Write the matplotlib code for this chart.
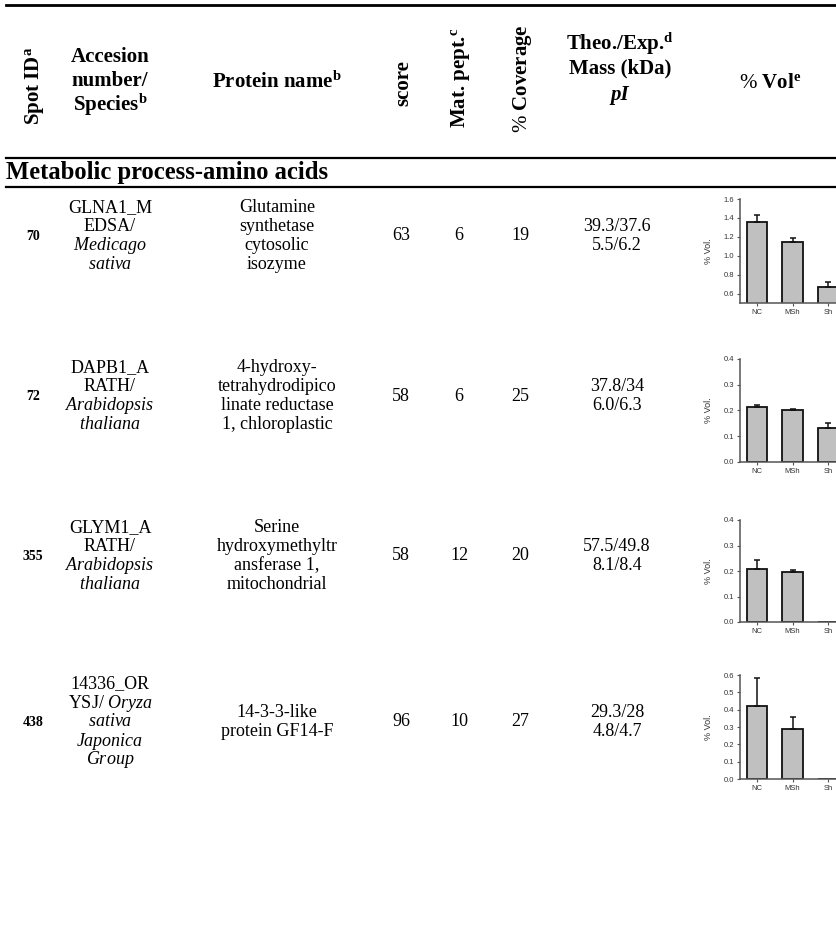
import matplotlib
matplotlib.use("Agg")
import matplotlib.pyplot as plt
from matplotlib.lines import Line2D

plt.rcParams['font.family'] = ['Liberation Serif', 'DejaVu Serif']
plt.rcParams['mathtext.fontset'] = 'custom'
plt.rcParams['mathtext.rm'] = 'Liberation Serif'
plt.rcParams['mathtext.it'] = 'Liberation Serif:italic'
plt.rcParams['mathtext.bf'] = 'Liberation Serif:bold'

# ---- table data ----
spot_ids = ['70', '72', '355', '438']
accession = [
    ['GLNA1_M', 'EDSA/', r'$\mathit{Medicago}$', r'$\mathit{sativa}$'],
    ['DAPB1_A', 'RATH/', r'$\mathit{Arabidopsis}$', r'$\mathit{thaliana}$'],
    ['GLYM1_A', 'RATH/', r'$\mathit{Arabidopsis}$', r'$\mathit{thaliana}$'],
    ['14336_OR', r'YSJ/ $\mathit{Oryza}$', r'$\mathit{sativa}$', r'$\mathit{Japonica}$', r'$\mathit{Group}$'],
]
protein_names = [
    ['Glutamine', 'synthetase', 'cytosolic', 'isozyme'],
    ['4-hydroxy-', 'tetrahydrodipico', 'linate reductase', '1, chloroplastic'],
    ['Serine', 'hydroxymethyltr', 'ansferase 1,', 'mitochondrial'],
    ['14-3-3-like', 'protein GF14-F'],
]
scores = [63, 58, 58, 96]
mat_pept = [6, 6, 12, 10]
coverage = [19, 25, 20, 27]
mass = ['39.3/37.6', '37.8/34', '57.5/49.8', '29.3/28']
pi_vals = ['5.5/6.2', '6.0/6.3', '8.1/8.4', '4.8/4.7']

# ---- % Vol bar chart data ----
groups = ['NC', 'MSh', 'Sh']
vol_mean = [[1.36, 1.15, 0.67], [0.215, 0.20, 0.133], [0.207, 0.195, 0.0], [0.42, 0.29, 0.0]]
vol_err = [[0.07, 0.04, 0.05], [0.005, 0.006, 0.017], [0.038, 0.008, 0.0], [0.165, 0.065, 0.0]]
vol_ylim = [(0.5, 1.6), (0.0, 0.4), (0.0, 0.4), (0.0, 0.6)]
vol_ticks = [[0.6, 0.8, 1.0, 1.2, 1.4, 1.6], [0.0, 0.1, 0.2, 0.3, 0.4],
             [0.0, 0.1, 0.2, 0.3, 0.4], [0.0, 0.1, 0.2, 0.3, 0.4, 0.5, 0.6]]

W, H = 836, 926
fig = plt.figure(figsize=(W / 100, H / 100), dpi=100)


def fx(x):
    return x / W


def fy(y):
    return 1 - y / H


def txt(x, y, s, **kw):
    kw.setdefault('ha', 'center')
    kw.setdefault('va', 'center')
    fig.text(fx(x), fy(y), s, **kw)


def block(x, yc, lines, step, **kw):
    n = len(lines)
    for i, s in enumerate(lines):
        txt(x, yc + (i - (n - 1) / 2) * step, s, **kw)


def hline(y, lw):
    fig.add_artist(Line2D([fx(6), 1.0], [fy(y), fy(y)], color='black', lw=lw))


# horizontal rules
hline(5, 2.0)
hline(158, 1.6)
hline(187, 1.6)

# header
hsize = 15
txt(35, 86, r'Spot ID$^{\mathbf{a}}$', rotation=90, fontsize=hsize, fontweight='bold')
block(110, 81, ['Accesion', 'number/', r'Species$^{\mathbf{b}}$'], 24, fontsize=hsize, fontweight='bold')
txt(277, 82, r'Protein name$^{\mathbf{b}}$', fontsize=hsize, fontweight='bold')
txt(403, 83, 'score', rotation=90, fontsize=hsize, fontweight='bold')
txt(461, 78, r'Mat. pept.$^{\mathbf{c}}$', rotation=90, fontsize=hsize, fontweight='bold')
txt(522, 79, r'$\mathit{\%}$ Coverage', rotation=90, fontsize=hsize, fontweight='bold')
block(620, 56, [r'Theo./Exp.$^{\mathbf{d}}$', 'Mass (kDa)'], 25, fontsize=hsize, fontweight='bold')
txt(620, 95, 'pI', fontsize=hsize, fontweight='bold', fontstyle='italic')
txt(770, 83, r'$\mathit{\%}$ Vol$^{\mathbf{e}}$', fontsize=hsize, fontweight='bold')

txt(6, 172, 'Metabolic process-amino acids', ha='left', fontsize=17.7, fontweight='bold')

# rows
row_y = [236, 396, 556, 722]
bsize = 13
step = 19
for i, yc in enumerate(row_y):
    txt(33, yc, spot_ids[i], fontsize=10, fontweight='bold')
    block(110, yc, accession[i], step, fontsize=bsize)
    block(277, yc, protein_names[i], step, fontsize=bsize)
    txt(401, yc, str(scores[i]), fontsize=bsize)
    txt(459, yc, str(mat_pept[i]), fontsize=bsize)
    txt(520, yc, str(coverage[i]), fontsize=bsize)
    block(617, yc, [mass[i], pi_vals[i]], step, fontsize=bsize)

# bar charts in the % Vol column
ax_bottom = [303, 462, 622, 779]
ax_top = [199, 359, 520, 675]
spacing = 35.5
for i in range(4):
    lo, hi = vol_ylim[i]
    top_val = vol_ticks[i][-1]
    px_per = (ax_bottom[i] - ax_top[i]) / (top_val - lo)
    hpx = (hi - lo) * px_per
    left = 740
    ax = fig.add_axes([fx(left), fy(ax_bottom[i]), 3 * spacing / W, hpx / H])
    xs = list(range(len(groups)))
    ax.bar(xs, vol_mean[i], width=0.58, bottom=0, color='#c0c0c0', edgecolor='#111111', linewidth=1.3, zorder=2)
    for x, m, e in zip(xs, vol_mean[i], vol_err[i]):
        if m > 0:
            ax.errorbar([x], [m], yerr=[[0], [e]], fmt='none', ecolor='#111111', elinewidth=1.1,
                        capsize=2.5, capthick=1.1, zorder=3)
    ax.set_xlim(-0.48, 2.52)
    ax.set_ylim(lo, hi)
    ax.set_yticks(vol_ticks[i])
    ax.set_yticklabels(['%.1f' % t for t in vol_ticks[i]])
    ax.set_xticks(xs)
    ax.set_xticklabels(groups)
    for s in ['top', 'right']:
        ax.spines[s].set_visible(False)
    for s in ['left', 'bottom']:
        ax.spines[s].set_color('#555555')
        ax.spines[s].set_linewidth(1.1)
    ax.tick_params(labelsize=5.5, length=2.5, width=0.8, color='#555555', labelcolor='#333333', pad=1.5)
    for lab in ax.get_xticklabels() + ax.get_yticklabels():
        lab.set_family('Liberation Sans')
    ax.set_ylabel('% Vol.', fontsize=6.5, family='Liberation Sans', color='#333333', labelpad=8)
    ax.patch.set_alpha(0)

fig.savefig('out.png', dpi=100)
